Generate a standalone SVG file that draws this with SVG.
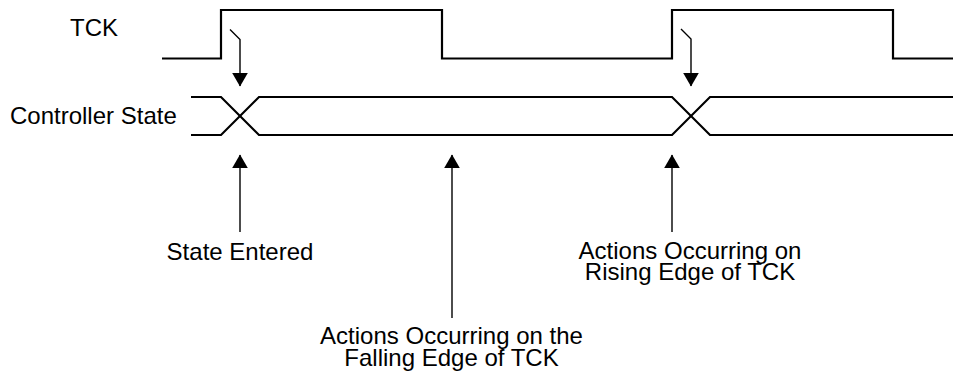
<svg xmlns="http://www.w3.org/2000/svg" width="953" height="375" viewBox="0 0 953 375">
<style>
.wave{fill:none;stroke:#000;stroke-width:2.2;stroke-linejoin:miter}
.arr{fill:none;stroke:#000;stroke-width:1.4}
.lbl{font-family:"Liberation Sans",Arial,Helvetica,sans-serif;font-size:24px;fill:#000}
.mid{text-anchor:middle}
</style>
<defs>
<marker id="ah" markerUnits="userSpaceOnUse" markerWidth="14" markerHeight="16" refX="13" refY="7.8" orient="auto" viewBox="0 0 14 16">
<path d="M0,0 L13.5,7.8 L0,15.6 Z" fill="#000"/>
</marker>
</defs>
<rect width="953" height="375" fill="#fff"/>
<g id="tck">
<text class="lbl" x="70" y="36">TCK</text>
<path class="wave" d="M162,58.5 H221 V10 H442 V58.5 H672 V10 H893 V58.5 H953"/>
</g>
<g id="controller-state">
<text class="lbl" x="10" y="123.5">Controller State</text>
<path class="wave" d="M191,97 H221 L259,135 H672 L710,97 H953"/>
<path class="wave" d="M191,135 H221 L259,97 H672 L710,135 H953"/>
</g>
<g id="label-state-entered">
<text class="lbl mid" x="240" y="259.5">State Entered</text>
</g>
<g id="label-falling">
<text class="lbl mid" x="451.5" y="344">Actions Occurring on the</text>
<text class="lbl mid" x="451.5" y="366">Falling Edge of TCK</text>
</g>
<g id="label-rising">
<text class="lbl mid" x="690" y="258.5">Actions Occurring on</text>
<text class="lbl mid" x="690" y="280">Rising Edge of TCK</text>
</g>
<g id="connectors">
<path class="arr" d="M230,29.5 L240,39.5 V86" marker-end="url(#ah)"/>
<path class="arr" d="M681,29 L691,39 V86" marker-end="url(#ah)"/>
<path class="arr" d="M240,232 V155" marker-end="url(#ah)"/>
<path class="arr" d="M452,318 V155" marker-end="url(#ah)"/>
<path class="arr" d="M672,232 V155" marker-end="url(#ah)"/>
</g>
</svg>
